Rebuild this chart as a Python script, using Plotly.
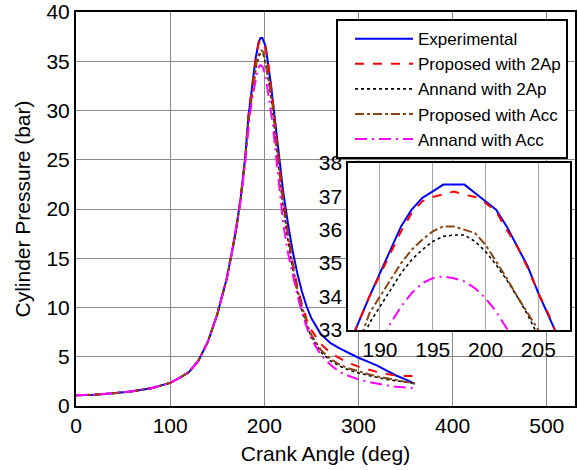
import plotly.graph_objects as go

crank_angle = [0, 20, 40, 60, 80, 100, 110, 120, 130, 140, 150, 155, 160, 165, 170, 175, 180,
               183, 185, 187,
               188, 189, 190, 191, 192, 193, 194, 195, 196, 197, 198, 199, 200, 201, 202, 203, 204, 205, 206, 207,
               209, 212, 215, 220, 225, 230, 235, 240, 245, 250,
               260, 270, 280, 290, 300, 310, 320, 330, 340, 350, 360]

experimental = [1.1, 1.15, 1.3, 1.5, 1.8, 2.35, 2.85, 3.45, 4.6, 6.5, 9.3, 11.0, 12.9, 15.3, 17.9, 21.2, 25.5,
                29.3, 31.0, 32.5,
                33.3, 34.0, 34.7, 35.4, 36.1, 36.6, 36.95, 37.15, 37.35, 37.35, 37.35, 37.1, 36.85, 36.6, 36.1, 35.5, 34.9, 34.1, 33.4, 32.7,
                31.0, 28.3, 25.7, 21.8, 18.6, 15.8, 13.5, 11.6, 10.1, 8.9,
                7.3, 6.4, 5.85, 5.35, 4.9, 4.5, 4.1, 3.6, 3.1, 2.7, 2.25]

proposed_2ap = [1.1, 1.15, 1.3, 1.5, 1.8, 2.35, 2.85, 3.45, 4.6, 6.5, 9.3, 11.0, 12.9, 15.3, 17.9, 21.2, 25.5,
                29.3, 31.0, 32.5,
                33.3, 34.0, 34.65, 35.3, 35.95, 36.5, 36.85, 36.98, 37.05, 37.14, 37.05, 36.98, 36.8, 36.55, 36.0, 35.5, 34.85, 34.1, 33.45, 32.7,
                31.0, 28.0, 25.2, 21.2, 17.7, 14.6, 12.2, 10.3, 8.8, 7.7,
                6.3, 5.4, 4.85, 4.35, 4.0, 3.7, 3.45, 3.25, 3.1, 3.05, 3.05]

annand_2ap = [1.1, 1.15, 1.3, 1.5, 1.8, 2.35, 2.85, 3.45, 4.6, 6.5, 9.3, 11.0, 12.9, 15.3, 17.9, 21.0, 25.2,
              28.7, 30.2, 31.7,
              32.5, 33.2, 33.7, 34.2, 34.7, 35.1, 35.4, 35.65, 35.8, 35.84, 35.84, 35.65, 35.35, 34.95, 34.5, 34.0, 33.45, 32.8, 32.1, 31.4,
              30.0, 27.0, 24.2, 20.2, 16.9, 14.0, 11.6, 9.7, 8.2, 7.0,
              5.5, 4.6, 4.05, 3.65, 3.35, 3.1, 2.9, 2.7, 2.55, 2.4, 2.3]

proposed_acc = [1.1, 1.15, 1.3, 1.5, 1.8, 2.35, 2.85, 3.45, 4.6, 6.5, 9.3, 11.0, 12.9, 15.3, 17.9, 21.1, 25.3,
                28.9, 30.4, 31.9,
                32.6, 33.5, 34.0, 34.5, 35.0, 35.4, 35.7, 35.95, 36.1, 36.1, 36.0, 35.9, 35.55, 35.05, 34.55, 34.0, 33.5, 33.0, 32.4, 31.8,
                30.4, 27.4, 24.6, 20.6, 17.2, 14.3, 11.9, 10.0, 8.4, 7.2,
                5.7, 4.8, 4.2, 3.8, 3.5, 3.25, 3.0, 2.8, 2.6, 2.45, 2.3]

annand_acc = [1.1, 1.15, 1.3, 1.5, 1.8, 2.35, 2.85, 3.45, 4.6, 6.5, 9.3, 11.0, 12.9, 15.3, 17.9, 20.9, 25.0,
              28.2, 29.8, 31.1,
              31.7, 32.2, 32.6, 33.2, 33.7, 34.1, 34.4, 34.55, 34.6, 34.55, 34.45, 34.25, 33.95, 33.55, 33.05, 32.5, 31.9, 31.3, 30.6, 29.9,
              28.5, 25.8, 23.0, 18.6, 15.6, 13.3, 11.3, 9.5, 8.0, 6.8,
              5.2, 4.2, 3.45, 3.05, 2.7, 2.45, 2.25, 2.1, 1.95, 1.85, 1.8]

series_names = ["Experimental", "Proposed with 2Ap", "Annand with 2Ap", "Proposed with Acc", "Annand with Acc"]
series_values = [experimental, proposed_2ap, annand_2ap, proposed_acc, annand_acc]
styles = [
    dict(color="#0000FF", width=2, dash="solid"),
    dict(color="#FF0000", width=2, dash="dash"),
    dict(color="#000000", width=1.6, dash="dot"),
    dict(color="#8B4513", width=2, dash="dashdot"),
    dict(color="#FF00FF", width=2, dash="12px,5px,2px,5px"),
]

main_xticks = [0, 100, 200, 300, 400, 500]
main_yticks = [0, 5, 10, 15, 20, 25, 30, 35, 40]
inset_xticks = [190, 195, 200, 205]
inset_yticks = [33, 34, 35, 36, 37, 38]

fig = go.Figure()
for name, vals, st in zip(series_names, series_values, styles):
    fig.add_trace(go.Scatter(x=crank_angle, y=vals, mode="lines", name=name, line=st,
                             xaxis="x", yaxis="y"))
for name, vals, st in zip(series_names, series_values, styles):
    fig.add_trace(go.Scatter(x=crank_angle, y=vals, mode="lines", name=name, line=st,
                             xaxis="x2", yaxis="y2", showlegend=False))

font = dict(family="Liberation Sans, Arial, sans-serif", size=21, color="black")
legend_font = dict(family="Liberation Sans, Arial, sans-serif", size=17, color="black")

fig.update_layout(
    width=578, height=470,
    margin=dict(l=76, r=3, t=12, b=64),
    paper_bgcolor="white", plot_bgcolor="white",
    font=font,
    showlegend=True,
    legend=dict(x=0.986, y=0.982, xanchor="right", yanchor="top",
                bgcolor="white", bordercolor="black", borderwidth=2,
                font=legend_font, tracegroupgap=0, itemwidth=58, indentation=12),
    xaxis=dict(range=[0, 530], tickvals=main_xticks, showgrid=True, gridcolor="#8a8a8a", gridwidth=1,
               showline=True, linecolor="black", linewidth=2, mirror=True, ticks="", zeroline=False,
               automargin=False, tickfont=font,
               title=dict(text="Crank Angle (deg)", font=font, standoff=10), domain=[0, 1]),
    yaxis=dict(range=[0, 40], tickvals=main_yticks, showgrid=True, gridcolor="#8a8a8a", gridwidth=1,
               showline=True, linecolor="black", linewidth=2, mirror=True, ticks="", zeroline=False,
               automargin=False, tickfont=font,
               title=dict(text="Cylinder Pressure (bar)", font=font, standoff=10), domain=[0, 1]),
    xaxis2=dict(range=[187, 208], tickvals=inset_xticks, showgrid=True, gridcolor="#a8a8a8", gridwidth=1,
                showline=True, linecolor="black", linewidth=2, mirror=True, ticks="", zeroline=False,
                automargin=False, tickfont=font,
                anchor="y2", domain=[0.5457, 0.990]),
    yaxis2=dict(range=[33, 38], tickvals=inset_yticks, showgrid=False,
                showline=True, linecolor="black", linewidth=2, mirror=True, ticks="", zeroline=False,
                automargin=False, tickfont=font,
                anchor="x2", domain=[0.193, 0.617]),
)

fig.write_html("out.html", config={"displayModeBar": False},
               post_script="document.body.style.margin='0px';")
